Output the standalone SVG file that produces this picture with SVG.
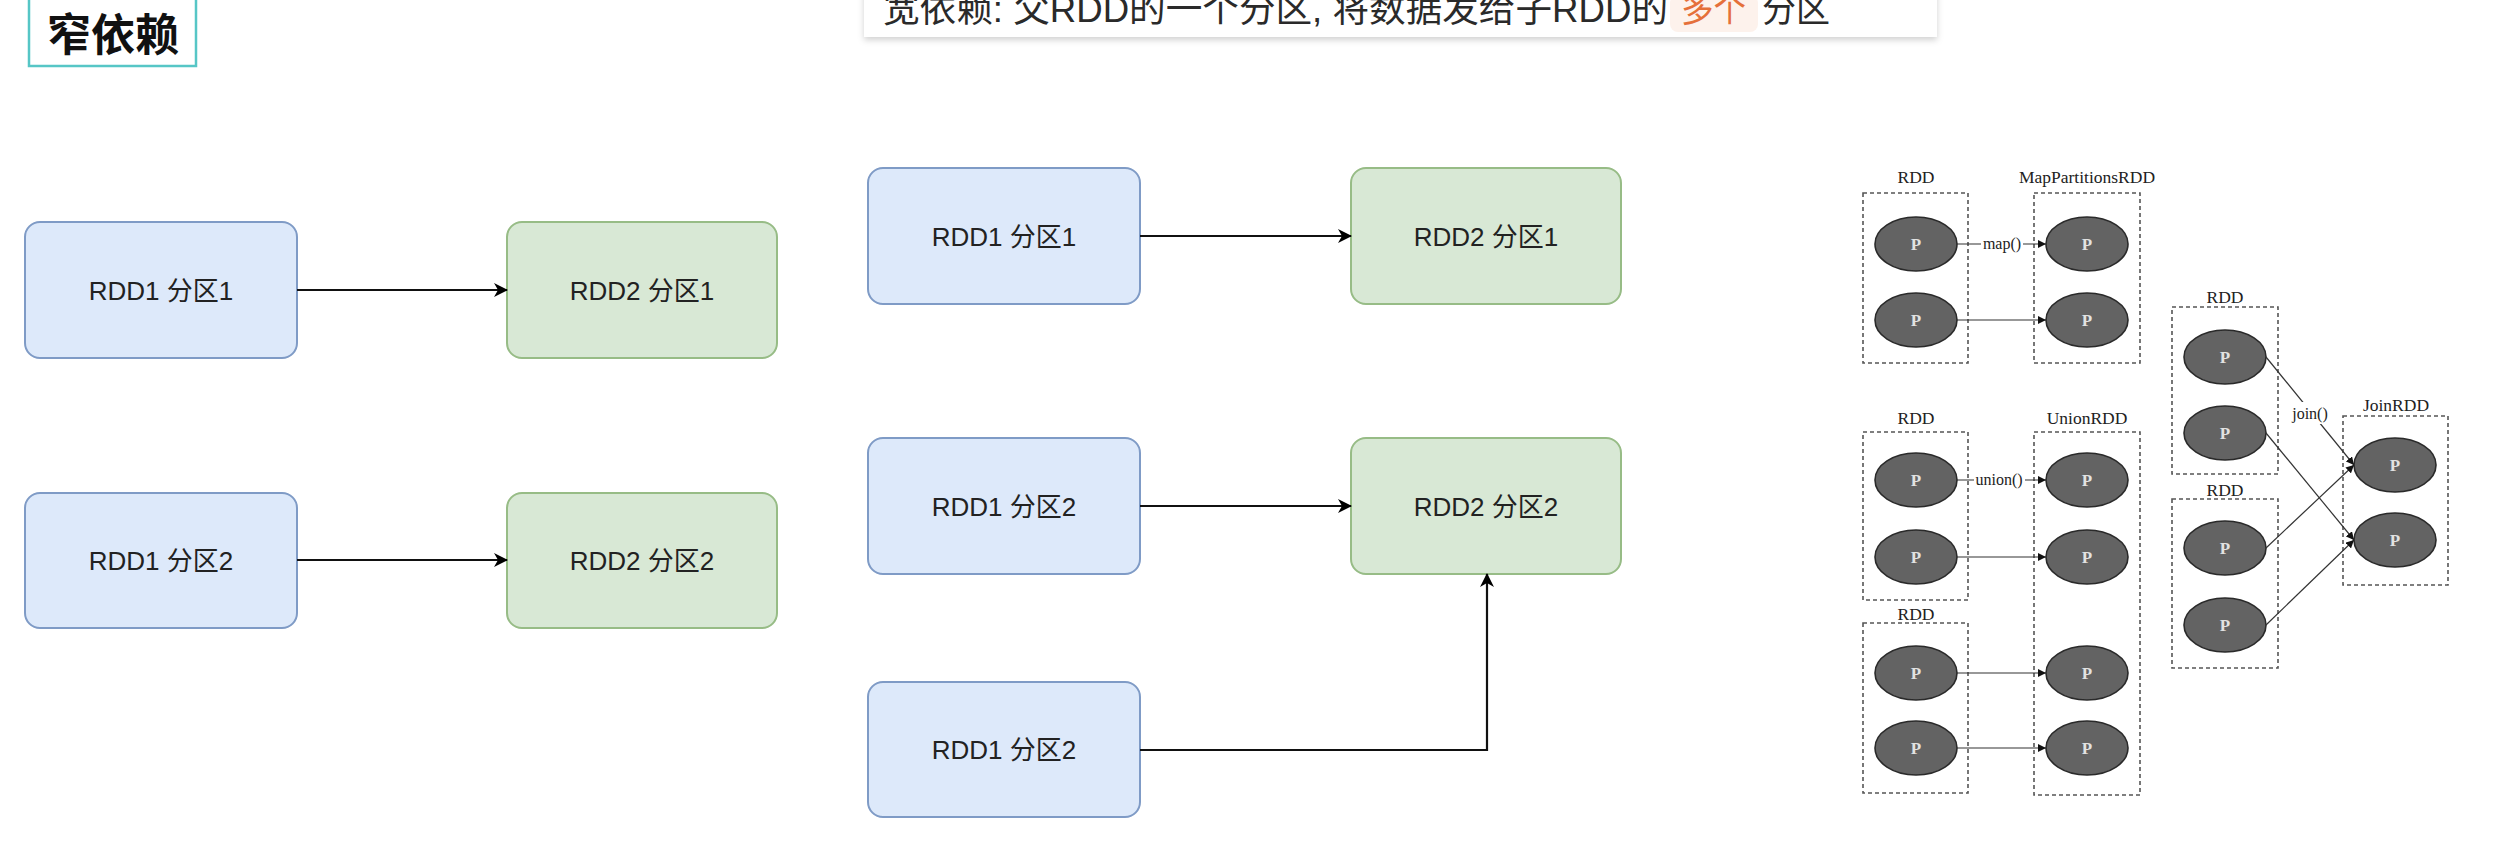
<svg xmlns="http://www.w3.org/2000/svg" width="2518" height="864" viewBox="0 0 2518 864">
<style>
.blue{fill:#dde9fa;stroke:#7f9bc6;stroke-width:2}
.green{fill:#d8e8d5;stroke:#97bc86;stroke-width:2}
.lbl{font-family:"Liberation Sans","Noto Sans CJK SC",sans-serif;font-size:26px;fill:#222;text-anchor:middle}
.conn{fill:none;stroke:#111;stroke-width:2.2}
.thin{fill:none;stroke:#333;stroke-width:1.2}
.dash{fill:none;stroke:#555;stroke-width:1.6;stroke-dasharray:4 3}
.p{fill:#636363;stroke:#2a2a2a;stroke-width:1.6}
.pt{font-family:"Liberation Serif",serif;font-size:17px;fill:#e2e2e2;text-anchor:middle;font-weight:bold}
.cap{font-family:"Liberation Serif",serif;font-size:17.5px;fill:#222;text-anchor:middle}
.op{font-family:"Liberation Serif",serif;font-size:16px;fill:#222;text-anchor:middle}
.ban{font-family:"Liberation Sans","Noto Sans CJK SC",sans-serif;font-size:36px;fill:#2a2a2a}
</style>
<defs>
<marker id="arr" viewBox="0 0 14 14" refX="13" refY="7" markerWidth="14" markerHeight="14" orient="auto" markerUnits="userSpaceOnUse"><path d="M0,0 L14,7 L0,14 L4,7 Z" fill="#000"/></marker>
<marker id="sarr" viewBox="0 0 8 8" refX="8" refY="4" markerWidth="8" markerHeight="8" orient="auto" markerUnits="userSpaceOnUse"><path d="M0,0 L8,4 L0,8 Z" fill="#111"/></marker>
<filter id="sh" x="-5%" y="-50%" width="110%" height="200%"><feDropShadow dx="0" dy="3" stdDeviation="3" flood-color="#000" flood-opacity="0.18"/></filter>
</defs>
<rect x="0" y="0" width="2518" height="864" fill="#fff"/>

<g id="title">
<rect x="29" y="-4" width="167" height="70" fill="#fff" stroke="#56c6c6" stroke-width="2.5"/>
<text x="113" y="51" font-family="'Noto Sans CJK SC',sans-serif" font-size="44" font-weight="bold" fill="#111" text-anchor="middle">窄依赖</text>
</g>

<g id="banner">
<rect x="864" y="-10" width="1073" height="47" fill="#fff" filter="url(#sh)"/>
<rect x="1670" y="-5" width="88" height="37" rx="8" fill="#fdf2ec"/>
<text class="ban" x="883" y="22" textLength="785" lengthAdjust="spacingAndGlyphs">宽依赖: 父RDD的一个分区, 将数据发给子RDD的</text>
<text class="ban" x="1681" y="22" textLength="65" lengthAdjust="spacingAndGlyphs" style="fill:#e5703a">多个</text>
<text class="ban" x="1762" y="22" textLength="68" lengthAdjust="spacingAndGlyphs">分区</text>
</g>

<!-- left narrow dependency -->
<g id="n-l-rdd1p1"><rect class="blue" x="25" y="222" width="272" height="136" rx="15"/><text class="lbl" x="161" y="300">RDD1 分区1</text></g>
<g id="n-l-rdd2p1"><rect class="green" x="507" y="222" width="270" height="136" rx="15"/><text class="lbl" x="642" y="300">RDD2 分区1</text></g>
<g id="n-l-rdd1p2"><rect class="blue" x="25" y="493" width="272" height="135" rx="15"/><text class="lbl" x="161" y="570">RDD1 分区2</text></g>
<g id="n-l-rdd2p2"><rect class="green" x="507" y="493" width="270" height="135" rx="15"/><text class="lbl" x="642" y="570">RDD2 分区2</text></g>

<!-- middle -->
<g id="n-m-rdd1p1"><rect class="blue" x="868" y="168" width="272" height="136" rx="15"/><text class="lbl" x="1004" y="246">RDD1 分区1</text></g>
<g id="n-m-rdd2p1"><rect class="green" x="1351" y="168" width="270" height="136" rx="15"/><text class="lbl" x="1486" y="246">RDD2 分区1</text></g>
<g id="n-m-rdd1p2a"><rect class="blue" x="868" y="438" width="272" height="136" rx="15"/><text class="lbl" x="1004" y="516">RDD1 分区2</text></g>
<g id="n-m-rdd2p2"><rect class="green" x="1351" y="438" width="270" height="136" rx="15"/><text class="lbl" x="1486" y="516">RDD2 分区2</text></g>
<g id="n-m-rdd1p2b"><rect class="blue" x="868" y="682" width="272" height="135" rx="15"/><text class="lbl" x="1004" y="759">RDD1 分区2</text></g>

<!-- map diagram -->
<g id="map-rdd">
<text class="cap" x="1916" y="183">RDD</text>
<rect class="dash" x="1863" y="193" width="105" height="170"/>
<ellipse class="p" cx="1916" cy="244" rx="41" ry="27"/><text class="pt" x="1916" y="250">P</text>
<ellipse class="p" cx="1916" cy="320" rx="41" ry="27"/><text class="pt" x="1916" y="326">P</text>
</g>
<g id="map-out">
<text class="cap" x="2087" y="183">MapPartitionsRDD</text>
<rect class="dash" x="2034" y="193" width="106" height="170"/>
<ellipse class="p" cx="2087" cy="244" rx="41" ry="27"/><text class="pt" x="2087" y="250">P</text>
<ellipse class="p" cx="2087" cy="320" rx="41" ry="27"/><text class="pt" x="2087" y="326">P</text>
</g>

<!-- union diagram -->
<g id="union-rdd1">
<text class="cap" x="1916" y="424">RDD</text>
<rect class="dash" x="1863" y="432" width="105" height="168"/>
<ellipse class="p" cx="1916" cy="480" rx="41" ry="27"/><text class="pt" x="1916" y="486">P</text>
<ellipse class="p" cx="1916" cy="557" rx="41" ry="27"/><text class="pt" x="1916" y="563">P</text>
</g>
<g id="union-rdd2">
<text class="cap" x="1916" y="620">RDD</text>
<rect class="dash" x="1863" y="623" width="105" height="170"/>
<ellipse class="p" cx="1916" cy="673" rx="41" ry="27"/><text class="pt" x="1916" y="679">P</text>
<ellipse class="p" cx="1916" cy="748" rx="41" ry="27"/><text class="pt" x="1916" y="754">P</text>
</g>
<g id="union-out">
<text class="cap" x="2087" y="424">UnionRDD</text>
<rect class="dash" x="2034" y="432" width="106" height="363"/>
<ellipse class="p" cx="2087" cy="480" rx="41" ry="27"/><text class="pt" x="2087" y="486">P</text>
<ellipse class="p" cx="2087" cy="557" rx="41" ry="27"/><text class="pt" x="2087" y="563">P</text>
<ellipse class="p" cx="2087" cy="673" rx="41" ry="27"/><text class="pt" x="2087" y="679">P</text>
<ellipse class="p" cx="2087" cy="748" rx="41" ry="27"/><text class="pt" x="2087" y="754">P</text>
</g>

<!-- join diagram -->
<g id="join-rdd1">
<text class="cap" x="2225" y="303">RDD</text>
<rect class="dash" x="2172" y="307" width="106" height="167"/>
<ellipse class="p" cx="2225" cy="357" rx="41" ry="27"/><text class="pt" x="2225" y="363">P</text>
<ellipse class="p" cx="2225" cy="433" rx="41" ry="27"/><text class="pt" x="2225" y="439">P</text>
</g>
<g id="join-rdd2">
<text class="cap" x="2225" y="496">RDD</text>
<rect class="dash" x="2172" y="499" width="106" height="169"/>
<ellipse class="p" cx="2225" cy="548" rx="41" ry="27"/><text class="pt" x="2225" y="554">P</text>
<ellipse class="p" cx="2225" cy="625" rx="41" ry="27"/><text class="pt" x="2225" y="631">P</text>
</g>
<g id="join-out">
<text class="cap" x="2396" y="411">JoinRDD</text>
<rect class="dash" x="2343" y="416" width="105" height="169"/>
<ellipse class="p" cx="2395" cy="465" rx="41" ry="27"/><text class="pt" x="2395" y="471">P</text>
<ellipse class="p" cx="2395" cy="540" rx="41" ry="27"/><text class="pt" x="2395" y="546">P</text>
</g>

<g id="connectors">
<line class="conn" x1="297" y1="290" x2="507" y2="290" marker-end="url(#arr)"/>
<line class="conn" x1="297" y1="560" x2="507" y2="560" marker-end="url(#arr)"/>
<line class="conn" x1="1140" y1="236" x2="1351" y2="236" marker-end="url(#arr)"/>
<line class="conn" x1="1140" y1="506" x2="1351" y2="506" marker-end="url(#arr)"/>
<path class="conn" d="M1140,750 H1487 V574" marker-end="url(#arr)"/>

<line class="thin" x1="1957" y1="244" x2="2046" y2="244" marker-end="url(#sarr)"/>
<rect x="1981" y="235" width="42" height="18" fill="#fff"/>
<text class="op" x="2002" y="249">map()</text>
<line class="thin" x1="1957" y1="320" x2="2046" y2="320" marker-end="url(#sarr)"/>

<line class="thin" x1="1957" y1="480" x2="2046" y2="480" marker-end="url(#sarr)"/>
<rect x="1974" y="471" width="51" height="18" fill="#fff"/>
<text class="op" x="1999" y="485">union()</text>
<line class="thin" x1="1957" y1="557" x2="2046" y2="557" marker-end="url(#sarr)"/>
<line class="thin" x1="1957" y1="673" x2="2046" y2="673" marker-end="url(#sarr)"/>
<line class="thin" x1="1957" y1="748" x2="2046" y2="748" marker-end="url(#sarr)"/>

<line class="thin" x1="2266" y1="357" x2="2354" y2="465" marker-end="url(#sarr)"/>
<line class="thin" x1="2266" y1="433" x2="2354" y2="540" marker-end="url(#sarr)"/>
<line class="thin" x1="2266" y1="548" x2="2354" y2="465" marker-end="url(#sarr)"/>
<line class="thin" x1="2266" y1="625" x2="2354" y2="540" marker-end="url(#sarr)"/>
<rect x="2291" y="402" width="38" height="22" fill="#fff"/>
<text class="op" x="2310" y="419">join()</text>
</g>
</svg>
